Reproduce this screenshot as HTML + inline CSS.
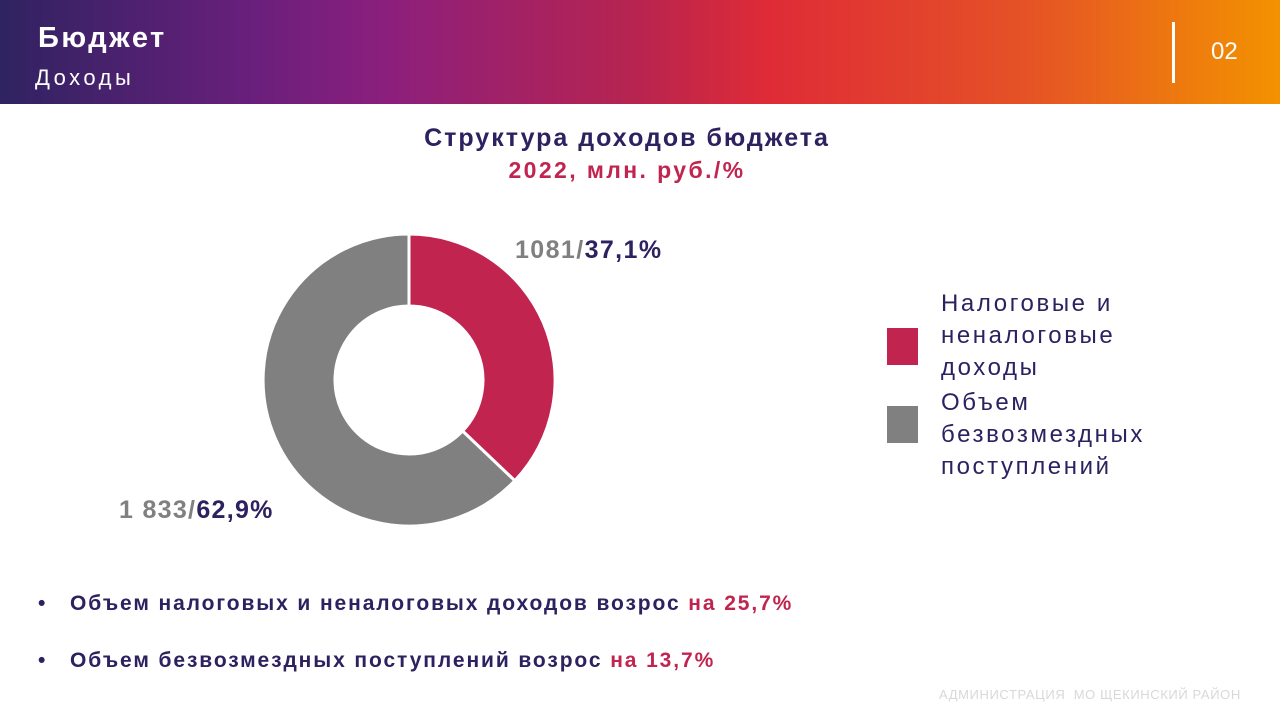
<!DOCTYPE html>
<html><head><meta charset="utf-8"><style>
body{margin:0;width:1280px;height:720px;background:#fff;position:relative;overflow:hidden;font-family:"Liberation Sans","DejaVu Sans",sans-serif}
.hdr{position:absolute;left:0;top:0;width:1280px;height:104px;background:linear-gradient(90deg,#2f2361 0%,#6a1f7c 20%,#8b1f7d 30%,#b8244f 50%,#df2b37 60%,#e55226 80%,#f39200 100%)}
.t{position:absolute;color:#fff;white-space:nowrap}
.abs{position:absolute;white-space:nowrap}
</style></head><body>
<div class="hdr"></div>
<div class="t" style="left:38px;top:22px;font-size:29px;font-weight:bold;letter-spacing:2.5px">Бюджет</div>
<div class="t" style="left:35px;top:65px;font-size:22px;letter-spacing:3.5px">Доходы</div>
<div style="position:absolute;left:1172px;top:22px;width:3px;height:61px;background:#fff"></div>
<div class="t" style="left:1211px;top:38px;font-size:24px">02</div>
<div class="abs" style="left:0;width:1254px;text-align:center;top:124px;font-size:25px;font-weight:bold;color:#2e2160;letter-spacing:2px">Структура доходов бюджета</div>
<div class="abs" style="left:0;width:1254px;text-align:center;top:157px;font-size:23px;font-weight:bold;color:#c0244f;letter-spacing:2.4px">2022, млн. руб./%</div>
<svg style="position:absolute;left:0;top:0" width="1280" height="720">
<path d="M409,234 A146 146 0 0 1 514.8,480.7 L462.6,431 A74 74 0 0 0 409,306 Z" fill="#c0244f" stroke="#fff" stroke-width="3"/>
<path d="M514.8,480.7 A146 146 0 1 1 409,234 L409,306 A74 74 0 1 0 462.6,431 Z" fill="#808080" stroke="#fff" stroke-width="3"/>
<rect x="887" y="328" width="31" height="37" fill="#c0244f"/>
<rect x="887" y="406" width="31" height="37" fill="#808080"/>
</svg>
<div class="abs" style="left:515px;top:236px;font-size:25px;font-weight:bold;color:#808080;letter-spacing:1.4px">1081/<span style="color:#2e2160">37,1%</span></div>
<div class="abs" style="left:119px;top:496px;font-size:25px;font-weight:bold;color:#808080;letter-spacing:1.3px">1 833/<span style="color:#2e2160">62,9%</span></div>
<div class="abs" style="left:941px;top:288px;font-size:24px;line-height:32px;color:#2e2160;letter-spacing:2.6px">Налоговые и<br>неналоговые<br>доходы</div>
<div class="abs" style="left:941px;top:387px;font-size:24px;line-height:32px;color:#2e2160;letter-spacing:2.6px">Объем<br>безвозмездных<br>поступлений</div>
<div class="abs" style="left:38px;top:592px;font-size:21px;font-weight:bold;color:#2e2160">•</div>
<div class="abs" style="left:70px;top:592px;font-size:21px;font-weight:bold;color:#2e2160;letter-spacing:1.9px">Объем налоговых и неналоговых доходов возрос <span style="color:#c0244f">на 25,7%</span></div>
<div class="abs" style="left:38px;top:649px;font-size:21px;font-weight:bold;color:#2e2160">•</div>
<div class="abs" style="left:70px;top:649px;font-size:21px;font-weight:bold;color:#2e2160;letter-spacing:1.9px">Объем безвозмездных поступлений возрос <span style="color:#c0244f">на 13,7%</span></div>
<div class="abs" style="left:939px;top:687px;font-size:13px;color:#d8d8d8;letter-spacing:0.6px">АДМИНИСТРАЦИЯ &nbsp;МО ЩЕКИНСКИЙ РАЙОН</div>
</body></html>
